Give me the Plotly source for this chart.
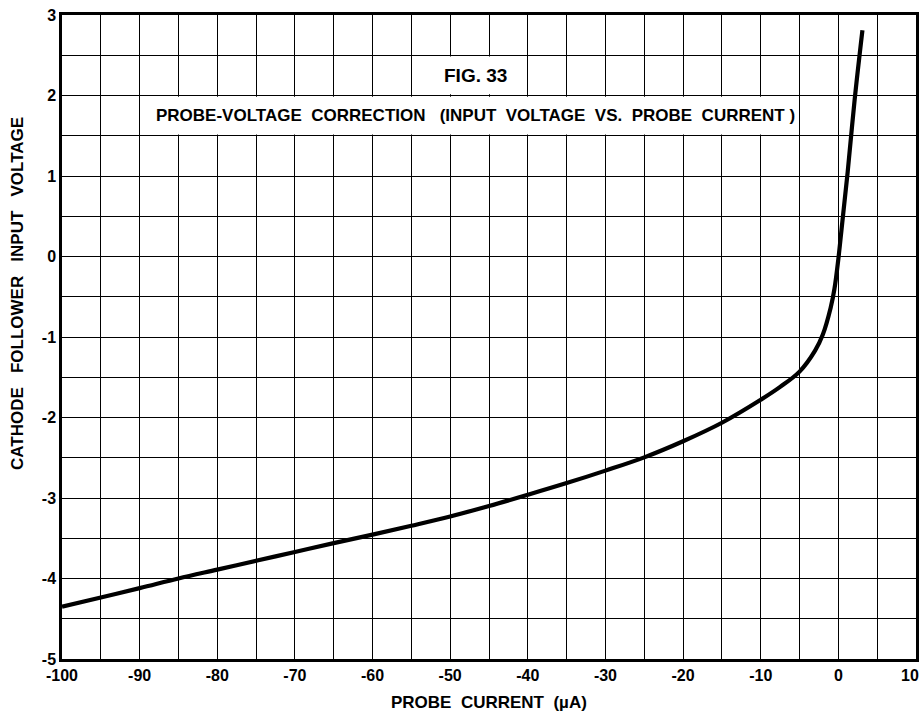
import plotly.graph_objects as go

# Probe current (microamperes) and the cathode follower input voltage (volts)
probe_current = [-100, -95, -90, -85, -80, -75, -70, -65, -60, -55, -50, -45, -40,
                 -35, -30, -25, -20, -15, -10, -7.5, -5, -3, -2, -1, -0.5, 0,
                 0.5, 1.2, 2.1, 3.1]
input_voltage = [-4.35, -4.235, -4.12, -4.0, -3.89, -3.78, -3.67, -3.56, -3.455,
                 -3.345, -3.23, -3.10, -2.96, -2.815, -2.66, -2.495, -2.295, -2.065,
                 -1.78, -1.62, -1.43, -1.17, -0.97, -0.64, -0.40, -0.03, 0.42,
                 1.05, 1.95, 2.81]

x_tick_vals = [-100, -90, -80, -70, -60, -50, -40, -30, -20, -10, 0, 10]
x_tick_text = ["-100", "-90", "-80", "-70", "-60", "-50", "-40", "-30", "-20",
               "-10", "0", "10"]
y_tick_vals = [3, 2, 1, 0, -1, -2, -3, -4, -5]
y_tick_text = ["3", "2", "1", "0", "-1", "-2", "-3", "-4", "-5"]

FONT = "Liberation Sans"
NB = "\u00a0"
SP2 = NB * 2
SP3 = NB * 3

fig = go.Figure()
fig.add_trace(go.Scatter(
    x=probe_current, y=input_voltage, mode="lines",
    line=dict(color="black", width=4.2, shape="spline", smoothing=1.0),
    hoverinfo="skip", showlegend=False,
))

tick_font = dict(family=FONT, size=16, color="black", weight="bold")
axis_common = dict(
    showline=True, linecolor="black", linewidth=2.5, mirror=True,
    showgrid=True, gridcolor="black", gridwidth=1.3,
    zeroline=False, ticks="", tickfont=tick_font,
)

# The last x label sits against the right edge of the page, so it is placed
# as an annotation instead of an axis tick label.
fig.update_xaxes(
    range=[-100, 10], tickmode="array", tickvals=x_tick_vals,
    ticktext=x_tick_text[:-1] + [""],
    minor=dict(dtick=5, tick0=0, showgrid=True, gridcolor="black", gridwidth=1.3),
    ticklabelstandoff=0, **axis_common,
)
fig.update_yaxes(
    range=[-5, 3], tickmode="array", tickvals=y_tick_vals, ticktext=y_tick_text,
    minor=dict(dtick=0.5, tick0=0, showgrid=True, gridcolor="black", gridwidth=1.3),
    ticklabelstandoff=0, **axis_common,
)
fig.add_annotation(x=1.0058, y=0, xref="paper", yref="paper", xanchor="right",
                   yanchor="top", yshift=-6, showarrow=False,
                   text=x_tick_text[-1], font=tick_font)

# White label panels sitting on top of the grid
fig.add_shape(type="rect", xref="x", yref="y", x0=-54.85, x1=-40.15, y0=2.015, y1=2.485,
              fillcolor="white", line=dict(width=0), layer="between")
fig.add_shape(type="rect", xref="x", yref="y", x0=-89.85, x1=-5.15, y0=1.515, y1=1.985,
              fillcolor="white", line=dict(width=0), layer="between")

fig.add_annotation(x=-46.8, y=2.25, xref="x", yref="y", showarrow=False,
                   text="FIG. 33",
                   font=dict(family=FONT, size=19, color="black", weight="bold"))
title_text = (f"PROBE-VOLTAGE{SP2}CORRECTION{SP3}(INPUT{SP2}VOLTAGE"
              f"{SP2}VS.{SP2}PROBE{SP2}CURRENT{NB})")
fig.add_annotation(x=-46.8, y=1.75, xref="x", yref="y", showarrow=False,
                   text=title_text,
                   font=dict(family=FONT, size=17, color="black", weight="bold"))

# Axis titles
fig.add_annotation(x=0.5, y=-0.05, xref="paper", yref="paper", yanchor="top",
                   showarrow=False,
                   text=f"PROBE{SP2}CURRENT{SP2}(\u00b5A)",
                   font=dict(family=FONT, size=17, color="black", weight="bold"))
fig.add_annotation(x=-0.0513, y=0.567, xref="paper", yref="paper", showarrow=False,
                   textangle=-90, xanchor="center", yanchor="middle",
                   text=f"CATHODE{SP3}FOLLOWER{SP3}INPUT{SP3}VOLTAGE",
                   font=dict(family=FONT, size=17, color="black", weight="bold"))

fig.update_layout(
    width=924, height=713,
    margin=dict(l=62, r=5, t=15, b=54),
    paper_bgcolor="white", plot_bgcolor="white",
    showlegend=False,
)

fig.write_html("out.html")
